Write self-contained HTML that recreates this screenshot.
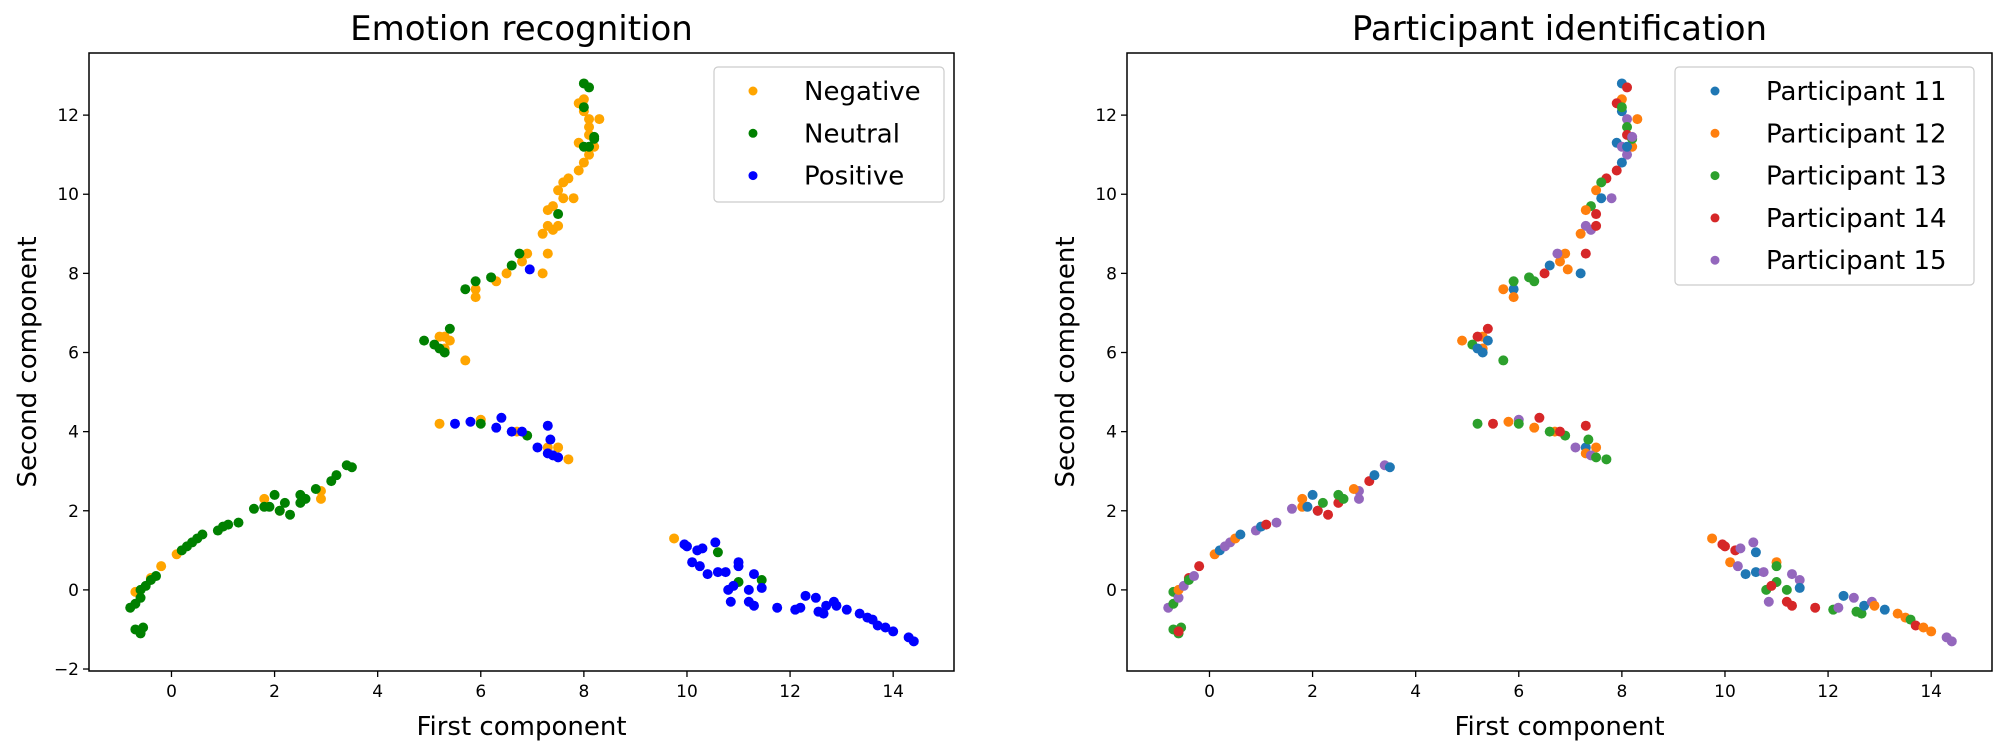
<!DOCTYPE html>
<html><head><meta charset="utf-8"><style>
html,body{margin:0;padding:0;background:#fff;}
svg{display:block;font-family:"DejaVu Sans","Liberation Sans",sans-serif;}
</style></head><body>
<svg id="fig" width="2008" height="749" viewBox="0 0 2008 749" xmlns="http://www.w3.org/2000/svg">
<rect width="2008" height="749" fill="#fff"/>
</svg>
<script>
const negX=[8.0,7.9,8.0,8.1,8.1,8.1,7.9,8.2,8.1,8.3,8.0,7.9,7.7,7.6,7.5,7.6,7.8,7.4,7.3,7.3,7.2,7.4,7.5,7.3,7.2,6.9,6.8,6.5,6.3,5.9,5.9,5.3,5.4,5.3,5.2,5.7,5.2,6.0,6.7,7.3,7.5,7.7,-0.7,-0.2,0.1,-0.4,1.8,2.1,2.9,2.9,9.75];
const negY=[12.4,12.3,12.1,11.9,11.7,11.5,11.3,11.2,11.0,11.9,10.8,10.6,10.4,10.3,10.1,9.9,9.9,9.7,9.6,9.2,9.0,9.1,9.2,8.5,8.0,8.5,8.3,8.0,7.8,7.6,7.4,6.4,6.3,6.1,6.4,5.8,4.2,4.3,4.0,3.6,3.6,3.3,-0.05,0.6,0.9,0.3,2.3,2.0,2.3,2.5,1.3];
const neuX=[8.0,8.1,8.0,8.2,8.0,8.1,8.2,7.5,6.75,6.6,6.2,5.9,5.7,5.4,4.9,5.1,5.2,5.3,6.0,6.9,-0.8,-0.7,-0.6,-0.6,-0.5,-0.4,-0.3,0.2,0.3,0.4,0.5,0.6,0.9,1.0,1.1,1.3,1.6,1.8,2.0,1.9,2.1,2.2,2.3,2.5,2.5,2.6,2.8,3.1,3.2,3.4,3.5,-0.7,-0.6,-0.55,-0.6,10.6,11.0,11.45];
const neuY=[12.8,12.7,12.2,11.4,11.2,11.2,11.45,9.5,8.5,8.2,7.9,7.8,7.6,6.6,6.3,6.2,6.1,6.0,4.2,3.9,-0.45,-0.35,-0.2,0.0,0.1,0.25,0.35,1.0,1.1,1.2,1.3,1.4,1.5,1.6,1.65,1.7,2.05,2.1,2.4,2.1,2.0,2.2,1.9,2.2,2.4,2.3,2.55,2.75,2.9,3.15,3.1,-1.0,-1.1,-0.95,-1.05,0.95,0.2,0.25];
const posX=[6.95,5.5,5.8,6.3,6.4,6.6,6.8,7.1,7.3,7.4,7.5,7.3,7.35,10.0,9.95,10.2,10.3,10.1,10.25,10.4,10.55,10.6,10.75,10.8,10.85,10.9,11.0,11.0,11.2,11.2,11.3,11.3,11.45,11.75,12.1,12.2,12.3,12.5,12.55,12.65,12.7,12.85,12.9,13.1,13.35,13.5,13.6,13.7,13.85,14.0,14.3,14.4];
const posY=[8.1,4.2,4.25,4.1,4.35,4.0,4.0,3.6,3.45,3.4,3.35,4.15,3.8,1.1,1.15,1.0,1.05,0.7,0.6,0.4,1.2,0.45,0.45,0.0,-0.3,0.1,0.7,0.6,0.0,-0.3,-0.4,0.4,0.05,-0.45,-0.5,-0.45,-0.15,-0.2,-0.55,-0.6,-0.4,-0.3,-0.4,-0.5,-0.6,-0.7,-0.75,-0.9,-0.95,-1.05,-1.2,-1.3];
// participant ids for each point (negative, neutral, positive order)
const partNeg="24153412521443215325254412243122124335212334242155";
const partNeu="14335154513324231133535253515521514552114344332415133341355";
const partPos="24224345253434445251515354233445143515331521223422554";
const xTicks=[0,2,4,6,8,10,12,14];
const yTicksL=[-2,0,2,4,6,8,10,12];
const yTicksR=[0,2,4,6,8,10,12];
const emoLabels=["Negative","Neutral","Positive"];
const emoColors=["#ffa500","#008000","#0000ff"];
const partLabels=["Participant 11","Participant 12","Participant 13","Participant 14","Participant 15"];
const partColors=["#1f77b4","#ff7f0e","#2ca02c","#d62728","#9467bd"];

const NS="http://www.w3.org/2000/svg";
const fig=document.getElementById('fig');
function mk(tag,attrs,parent){const e=document.createElementNS(NS,tag);for(const k in attrs)e.setAttribute(k,attrs[k]);(parent||fig).appendChild(e);return e;}
const X0=-1.6,X1=15.18,Y0=-2.05,Y1=13.57,W=865,T=53,B=671;
function panel(left,name){
  const g=mk('g',{});
  
  
  return {g,sx:v=>left+(v-X0)/(X1-X0)*W,sy:v=>B-(v-Y0)/(Y1-Y0)*(B-T),left};
}
function axes(p,yt,title){
  const f=mk('rect',{x:p.left,y:T,width:W,height:B-T,fill:'none',stroke:'#000','stroke-width':1.5},p.g);
  
  
  xTicks.forEach(v=>{const x=p.sx(v);
    mk('line',{x1:x,x2:x,y1:B,y2:B+6,stroke:'#000','stroke-width':1.3},p.g);
    const t=mk('text',{x:x,y:B+26,'font-size':17,'text-anchor':'middle'},p.g);t.textContent=v<0?'\u2212'+(-v):v;
    
    });
  yt.forEach(v=>{const y=p.sy(v);
    mk('line',{x1:p.left-6,x2:p.left,y1:y,y2:y,stroke:'#000','stroke-width':1.3},p.g);
    const t=mk('text',{x:p.left-10,y:y+6,'font-size':17,'text-anchor':'end'},p.g);t.textContent=v<0?'\u2212'+(-v):v;
    
    });
  const tt=mk('text',{x:p.left+W/2,y:40,'font-size':34,'text-anchor':'middle'},p.g);tt.textContent=title;
  
  
  const xl=mk('text',{x:p.left+W/2,y:735,'font-size':26,'text-anchor':'middle'},p.g);xl.textContent='First component';
  
  
  const yl=mk('text',{x:0,y:0,'font-size':26,'text-anchor':'middle',transform:`translate(${p.left-53},${(T+B)/2}) rotate(-90)`},p.g);yl.textContent='Second component';
  
  
}
function dot(p,x,y,c){const d=mk('circle',{cx:p.sx(x),cy:p.sy(y),r:5,fill:c},p.g);
  
  }
function legend(p,x,y,w,h,labels,colors,mx,tx){
  const lg=mk('g',{},p.g);
  
  
  mk('rect',{x,y,width:w,height:h,rx:4,fill:'#fff','fill-opacity':0.85,stroke:'#ccc','stroke-width':1.2},lg);
  labels.forEach((l,i)=>{const cy=y+24+i*42.3;
    mk('circle',{cx:mx,cy:cy,r:4.5,fill:colors[i]},lg);
    const t=mk('text',{x:tx,y:cy+9,'font-size':26},lg);t.textContent=l;
    
    });
}
const L=panel(89,'emotion-recognition-chart');
axes(L,yTicksL,'Emotion recognition');
negX.forEach((v,i)=>dot(L,v,negY[i],emoColors[0]));
neuX.forEach((v,i)=>dot(L,v,neuY[i],emoColors[1]));
posX.forEach((v,i)=>dot(L,v,posY[i],emoColors[2]));
legend(L,714,67,230,135,emoLabels,emoColors,753,804);

const R=panel(1127,'participant-identification-chart');
axes(R,yTicksR,'Participant identification');
negX.forEach((v,i)=>dot(R,v,negY[i],partColors[(+partNeg[i%partNeg.length])-1]));
neuX.forEach((v,i)=>dot(R,v,neuY[i],partColors[(+partNeu[i%partNeu.length])-1]));
posX.forEach((v,i)=>dot(R,v,posY[i],partColors[(+partPos[i%partPos.length])-1]));
legend(R,1675,67,299,218,partLabels,partColors,1715,1766);
</script>
</body></html>
